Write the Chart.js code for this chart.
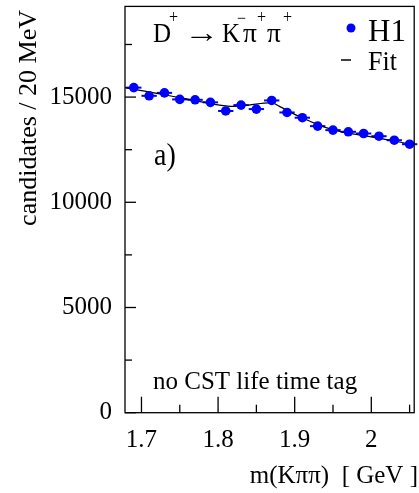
<!DOCTYPE html>
<html><head><meta charset="utf-8">
<script src="https://cdn.jsdelivr.net/npm/chart.js@4/dist/chart.umd.min.js"></script>
<style>html,body{margin:0;padding:0;background:#fff;overflow:hidden}</style>
</head><body>
<canvas id="c" width="419" height="493" style="width:419px;height:493px;display:block"></canvas>
<script>
// ---- data ----
const massBins = [1.69,1.71,1.73,1.75,1.77,1.79,1.81,1.83,1.85,1.87,1.89,1.91,1.93,1.95,1.97,1.99,2.01,2.03,2.05];
const candidates = [15450,15060,15200,14890,14870,14750,14340,14620,14430,14840,14270,14020,13620,13430,13350,13270,13140,12950,12760];
const binHalfWidth = 0.01;
const fitMass   = [1.678,1.70,1.72,1.74,1.76,1.78,1.80,1.82,1.84,1.86,1.87,1.88,1.90,1.92,1.94,1.96,1.98,2.00,2.02,2.04,2.056];
const fitValues = [15450,15310,15180,15040,14900,14760,14630,14560,14620,14710,14730,14560,14180,13850,13560,13360,13230,13110,12980,12840,12720];
const xTickValues = [1.7,1.75,1.8,1.85,1.9,1.95,2.0,2.05];
const xTickLabels = ['1.7','','1.8','','1.9','','2',''];
const yTickValues = [0,2500,5000,7500,10000,12500,15000,17500];
const yTickLabels = ['0','','5000','','10000','','15000',''];
const xRange = [1.6785, 2.056];
const yRange = [0, 19310];

const SERIF = '"Liberation Serif", "Times New Roman", serif';
const BLUE = '#0000ff';

function sText(ctx, t, x, y, size, sy, sx) {
  ctx.save();
  ctx.translate(x, y); ctx.scale(sx || 1, sy || 1);
  ctx.font = size + 'px ' + SERIF;
  ctx.fillText(t, 0, 0);
  ctx.restore();
}

const decor = {
  id: 'decor',
  beforeDatasetsDraw(chart) {
    const {ctx, scales:{x, y}} = chart;
    ctx.save();
    ctx.strokeStyle = BLUE; ctx.lineWidth = 2;
    massBins.forEach((m, i) => {
      const py = y.getPixelForValue(candidates[i]);
      ctx.beginPath();
      ctx.moveTo(x.getPixelForValue(m - binHalfWidth), py);
      ctx.lineTo(x.getPixelForValue(m + binHalfWidth), py);
      ctx.stroke();
    });
    ctx.restore();
  },
  afterDraw(chart) {
    const {ctx, chartArea:a, scales:{x, y}} = chart;
    ctx.save();
    ctx.strokeStyle = '#000'; ctx.lineWidth = 1.3;
    ctx.strokeRect(a.left, a.top, a.right - a.left, a.bottom - a.top);
    xTickValues.forEach((v, i) => {
      const px = x.getPixelForValue(v);
      const len = xTickLabels[i] ? 16 : 8;
      ctx.beginPath(); ctx.moveTo(px, a.bottom); ctx.lineTo(px, a.bottom - len); ctx.stroke();
    });
    yTickValues.forEach((v, i) => {
      const py = y.getPixelForValue(v);
      const len = yTickLabels[i] ? 11 : 7;
      ctx.beginPath(); ctx.moveTo(a.left, py); ctx.lineTo(a.left + len, py); ctx.stroke();
    });
    ctx.fillStyle = '#000';
    ctx.textBaseline = 'alphabetic';
    // reaction title
    const sy = 1.12;
    sText(ctx, 'D', 153, 42, 25, sy);
    sText(ctx, '+', 169, 23, 16, sy);
    sText(ctx, '\u2192', 184, 42, 25, sy, 1.4);
    sText(ctx, 'K', 222, 42, 25, sy);
    sText(ctx, '\u2212', 237, 24, 16, sy);
    sText(ctx, '\u03c0', 243, 42, 25, sy, 1.1);
    sText(ctx, '+', 257, 23, 16, sy);
    sText(ctx, '\u03c0', 267, 42, 25, sy, 1.1);
    sText(ctx, '+', 283, 23, 16, sy);
    // legend
    ctx.fillStyle = BLUE;
    ctx.beginPath(); ctx.arc(351, 28, 4.5, 0, Math.PI * 2); ctx.fill();
    ctx.fillStyle = '#000';
    sText(ctx, 'H1', 368, 41, 31, 1.05);
    ctx.lineWidth = 1.5;
    ctx.beginPath(); ctx.moveTo(341, 60); ctx.lineTo(351, 60); ctx.stroke();
    sText(ctx, 'Fit', 368, 70, 26, 1.05);
    // panel label and note
    sText(ctx, 'a)', 154, 165, 28, 1.12);
    sText(ctx, 'no CST life time tag', 153, 389, 25, 1.05);
    // axis titles
    ctx.textAlign = 'right';
    sText(ctx, 'm(K\u03c0\u03c0)  [ GeV ]', 418, 483, 25, 1.05);
    ctx.save();
    ctx.translate(36, 10); ctx.rotate(-Math.PI / 2);
    ctx.font = '26px ' + SERIF; ctx.fillText('candidates / 20 MeV', 0, 0);
    ctx.restore();
    ctx.restore();
  }
};

new Chart(document.getElementById('c'), {
  type: 'scatter',
  data: {
    datasets: [
      { label: 'H1', data: massBins.map((m, i) => ({x: m, y: candidates[i]})),
        pointRadius: 4.8, pointHoverRadius: 4.8, pointBackgroundColor: BLUE, pointBorderWidth: 0, showLine: false },
      { label: 'Fit', data: fitMass.map((m, i) => ({x: m, y: fitValues[i]})),
        showLine: true, pointRadius: 0, borderColor: '#000', borderWidth: 1.2, cubicInterpolationMode: 'monotone', fill: false }
    ]
  },
  options: {
    responsive: false, animation: false, devicePixelRatio: 1,
    layout: { padding: { left: 0, right: 2.5, top: 6.4, bottom: 0 } },
    plugins: { legend: { display: false }, tooltip: { enabled: false } },
    scales: {
      x: {
        type: 'linear', min: xRange[0], max: xRange[1],
        grid: { display: false, drawTicks: false }, border: { display: false },
        afterBuildTicks: s => { s.ticks = xTickValues.map(v => ({value: v})); },
        afterFit: s => { s.height = 80.3; s.paddingLeft = 0; s.paddingRight = 0; },
        ticks: { autoSkip: false, maxRotation: 0, includeBounds: false, padding: 13, color: '#000',
          font: { family: SERIF, size: 25 }, callback: (v, i) => xTickLabels[i] }
      },
      y: {
        type: 'linear', min: yRange[0], max: yRange[1], position: 'left',
        grid: { display: false, drawTicks: false }, border: { display: false },
        afterBuildTicks: s => { s.ticks = yTickValues.map(v => ({value: v})); },
        afterFit: s => { s.width = 125; s.paddingTop = 0; s.paddingBottom = 0; },
        ticks: { autoSkip: false, includeBounds: false, padding: 13, color: '#000',
          font: { family: SERIF, size: 25 }, callback: (v, i) => yTickLabels[i] }
      }
    }
  },
  plugins: [decor]
});
</script>
</body></html>
